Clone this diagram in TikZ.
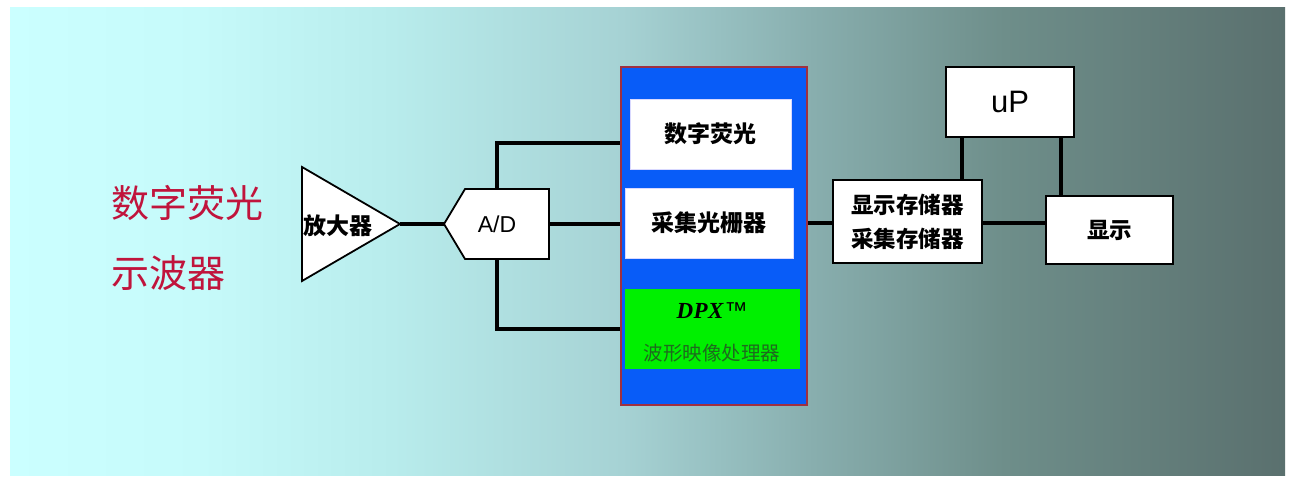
\documentclass[tikz,border=0pt]{standalone}
\usepackage{fontspec}
\setmainfont{Liberation Sans}
\newfontfamily\cjk{Noto Sans CJK SC}
\newfontfamily\dpxfont{Liberation Serif}
\definecolor{redtxt}{HTML}{C0143C}
\definecolor{bluebg}{HTML}{085CF8}
\definecolor{greenbg}{HTML}{00F000}
\definecolor{greentxt}{HTML}{1E6A1E}
\definecolor{borderred}{HTML}{A03040}
\definecolor{bgA}{HTML}{CBFFFF}
\definecolor{bgB}{HTML}{C6FAFA}
\definecolor{bgC}{HTML}{B8ECEC}
\definecolor{bgD}{HTML}{A6D2D4}
\definecolor{bgE}{HTML}{88AEAE}
\definecolor{bgF}{HTML}{6E8E8A}
\definecolor{bgG}{HTML}{5A706E}
\pgfdeclarehorizontalshading{panelbg}{100bp}{color(0bp)=(bgA); color(25bp)=(bgA); color(32.5bp)=(bgB); color(40bp)=(bgC); color(49bp)=(bgD); color(56.5bp)=(bgE); color(64bp)=(bgF); color(75bp)=(bgG); color(100bp)=(bgG)}
\tikzset{
  wire/.style={line width=3.6pt, black},
  wbox/.style={draw=black, line width=1.8pt, fill=white, inner sep=0pt, font=\cjk\bfseries\fontsize{22.5}{26}\selectfont},
  innerbox/.style={draw=white!85!blue, line width=0.8pt, fill=white, inner sep=0pt, font=\cjk\bfseries\fontsize{23}{26}\selectfont},
  lbl/.style={inner sep=0pt},
}
\begin{document}
\begin{tikzpicture}[x=1pt,y=-1pt]
\useasboundingbox (0,0) rectangle (1290,478);
\fill[white] (0,0) rectangle (1290,478);
\shade[shading=panelbg] (10,8) rectangle (1285,475);

% title
\node[lbl, text=redtxt, font=\cjk\fontsize{38}{42}\selectfont, anchor=west] (t1) at (111,203) {数字荧光};
\node[lbl, text=redtxt, font=\cjk\fontsize{38}{42}\selectfont, anchor=west] (t2) at (111,273) {示波器};

% amplifier
\draw[line width=1.8pt, fill=white] (302,167) -- (400,224) -- (302,281) -- cycle;
\coordinate (ampout) at (400,224);
\node[lbl, font=\cjk\bfseries\fontsize{23}{26}\selectfont] (amp) at (338,226) {放大器};

% A/D
\draw[line width=1.8pt, fill=white] (444,224) -- (465,189) -- (549,189) -- (549,259) -- (465,259) -- cycle;
\coordinate (adin) at (444,224);
\coordinate (adtop) at (497,189);
\coordinate (adbot) at (497,259);
\coordinate (adout) at (549,224);
\node[lbl, font=\fontsize{23}{26}\selectfont] (ad) at (497,224) {A/D};

% blue block
\node[draw=borderred, line width=1.5pt, fill=bluebg, minimum width=186pt, minimum height=338pt, inner sep=0pt] (blue) at (714,236) {};
\node[innerbox, minimum width=161pt, minimum height=70pt] (fp) at (710.5,134) {数字荧光};
\node[innerbox, minimum width=168pt, minimum height=70pt] (raster) at (709,223) {采集光栅器};
\node[fill=greenbg, minimum width=175pt, minimum height=80pt, inner sep=0pt] (dpx) at (712.5,329) {};
\node[lbl, font=\dpxfont\bfseries\itshape\fontsize{23}{25}\selectfont] (dpxt) at (712,311) {D\kern0.5pt P\kern0.5pt X\kern1pt{\normalfont ™}};
\node[lbl, text=greentxt, font=\cjk\fontsize{19.5}{22}\selectfont] (dpxs) at (712,353) {波形映像处理器};

% right side
\node[wbox, minimum width=149pt, minimum height=83pt, align=center] (store) at (907.5,221.5) {显示存储器\\[8pt]采集存储器};
\node[draw=black, line width=1.8pt, fill=white, minimum width=128pt, minimum height=70pt, inner sep=0pt, font=\fontsize{31}{34}\selectfont] (up) at (1010,102) {uP};
\node[wbox, minimum width=127pt, minimum height=68pt] (disp) at (1109.5,230) {显示};

% connectors
\draw[wire] (ampout) -- (adin);
\draw[wire] (adtop) |- (blue.west |- 0,143);
\draw[wire] (adout) -- (blue.west |- adout);
\draw[wire] (adbot) |- (blue.west |- 0,329);
\draw[wire] (blue.east |- 0,223) -- (store.west |- 0,223);
\draw[wire] (store.east |- 0,223) -- (disp.west |- 0,223);
\draw[wire] (up.south -| 962,0) -- (store.north -| 962,0);
\draw[wire] (up.south -| 1061,0) -- (disp.north -| 1061,0);
\end{tikzpicture}
\end{document}
